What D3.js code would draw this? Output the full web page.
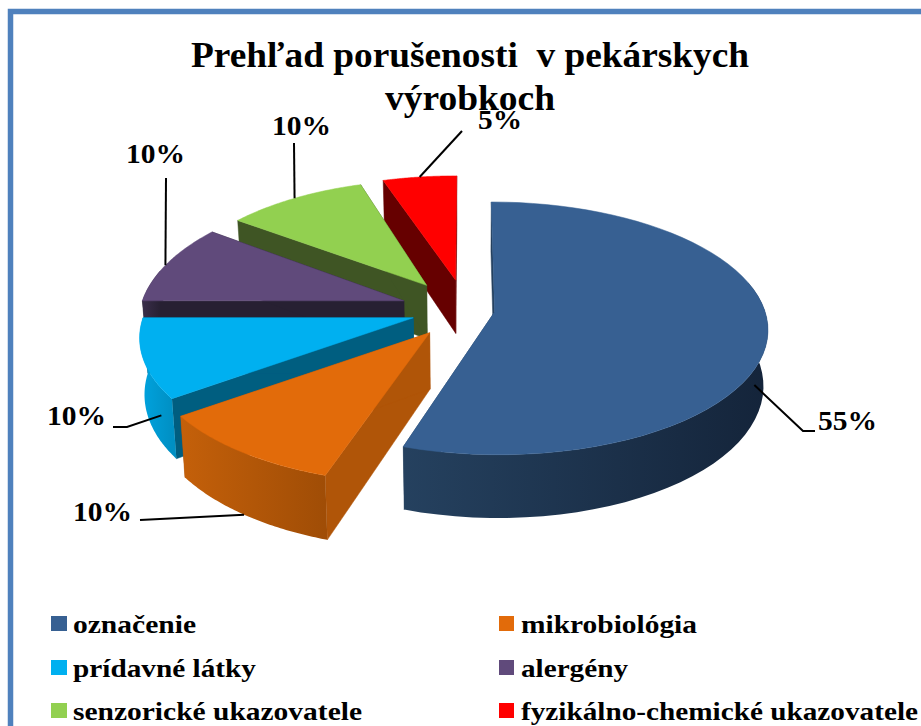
<!DOCTYPE html>
<html><head><meta charset="utf-8">
<script src="https://cdn.jsdelivr.net/npm/d3@7"></script>
<style>html,body{margin:0;padding:0;background:#fff;overflow:hidden}svg{display:block}
text{font-family:"Liberation Serif",serif;font-weight:bold;fill:#000;white-space:pre}</style>
</head><body><svg id="c" width="921" height="726"></svg>
<script>
// ---- data ----
const categories = ["označenie","mikrobiológia","prídavné látky","alergény","senzorické ukazovatele","fyzikálno-chemické ukazovatele"];
const values = [55,10,10,10,10,5];
const valueLabels = ["55%","10%","10%","10%","10%","5%"];
const titleLines = ["Prehľad porušenosti  v pekárskych","výrobkoch"];
// ---- styles ----
const topColors  = ["#376092","#e26b0a","#00b0f0","#604a7b","#92d050","#ff0000"];
const wallColors = ["#24405f","#b05508","#005e80","#272032","#3f5524","#660000"];
const rimColors  = [["#25415f","#14243a"],["#c4600a","#a04d06"],["#00a4e0","#0090c4"],["#3a2e4a","#272032"],["#55722f","#3f5524"],["#800000","#660000"]];
// ---- layout ----
const explode = [0.105,0.22,0.20,0.24,0.25,0.25];
const radiusX = [0.982,0.995,0.975,0.96,0.95,1];
const radiusY = [0.99,1,1,1.03,1,1];
const paintOrder = [5,4,3,2,1,0];
const labelX = [818,73,47,126,272,478], labelY = [430,521,425,163,135,129];
const anchorDeg = [115,216,240,287,324,351], anchorZ = [0.3,1,0.5,0,0,0];
const elbows = [[[803,431],[815,431]],[[140,520]],[[127,427],[113,427]],[[166,178]],[[294,143]],[[462,131]]];
const legendX = [51,499], legendRows = [633,677,720], legendW = [123,176,183,107,289,397];
const titleW = [558,170], titleY = [67,110];

const svg = d3.select("#c");
const P = 0.13, D = 55, CX = 466;
const sx = d3.scaleLinear().domain([-1,1]).range([CX-275,CX+275]);
const sy = d3.scaleLinear().domain([-1,1]).range([310+125,310-125]);
const proj = (wx,wy,z=0)=>{const s=1/(1+P*wy), x=sx(wx*s);
  return [CX+(x-CX)*(1-0.015*z), sy(wy*s)+D*z*s];};
const line = d3.line();
const arcs = d3.pie().sort(null)(values);
const defs = svg.append("defs");

svg.append("path").attr("d","M921,11.5H10.5V726").attr("fill","none").attr("stroke","#4f81bd").attr("stroke-width",5.5);

paintOrder.forEach(i=>{
  const a=arcs[i], mid=(a.startAngle+a.endAngle)/2;
  const tx=explode[i]*Math.sin(mid), ty=explode[i]*Math.cos(mid);
  const rim=d3.range(0,61).map(k=>{const t=a.startAngle+(a.endAngle-a.startAngle)*k/60;
    return [tx+radiusX[i]*Math.sin(t),ty+radiusY[i]*Math.cos(t)];});
  const T=(w,z)=>proj(w[0],w[1],z);
  const tip=[tx,ty];
  const g=svg.append("g");
  [rim[0],rim[60]].forEach(e=>{
    g.append("path").attr("d",line([T(tip,0),T(e,0),T(e,1),T(tip,1)])+"Z")
     .attr("fill",wallColors[i]).attr("stroke",wallColors[i]).attr("stroke-width",.5);
  });
  const front=rim.filter((w,k)=>{const t=a.startAngle+(a.endAngle-a.startAngle)*k/60;return Math.cos(t)<0.25;});
  if(front.length>1){
    const id="rim"+i, xs=front.map(w=>T(w,0)[0]);
    const gr=defs.append("linearGradient").attr("id",id).attr("gradientUnits","userSpaceOnUse")
      .attr("x1",d3.min(xs)).attr("x2",d3.max(xs)).attr("y1",0).attr("y2",0);
    const c=rimColors[i];
    gr.append("stop").attr("offset",0).attr("stop-color",c[0]);
    gr.append("stop").attr("offset",1).attr("stop-color",c[1]);
    g.append("path").attr("d",line(front.map(w=>T(w,0)).concat(front.slice().reverse().map(w=>T(w,1))))+"Z")
     .attr("fill","url(#"+id+")");
  }
  g.append("path").attr("d",line([T(tip,0)].concat(rim.map(w=>T(w,0))))+"Z")
   .attr("fill",topColors[i]).attr("stroke",topColors[i]).attr("stroke-width",.5);
});

arcs.forEach((a,i)=>{
  const mid=(a.startAngle+a.endAngle)/2, t=anchorDeg[i]*Math.PI/180;
  const start=proj(explode[i]*Math.sin(mid)+radiusX[i]*Math.sin(t),explode[i]*Math.cos(mid)+radiusY[i]*Math.cos(t),anchorZ[i]);
  svg.append("path").attr("d",line([start].concat(elbows[i]))).attr("fill","none").attr("stroke","#000").attr("stroke-width",2);
  svg.append("text").attr("x",labelX[i]).attr("y",labelY[i]).attr("font-size",28)
    .attr("textLength",i===5?44:59).attr("lengthAdjust","spacingAndGlyphs").text(valueLabels[i]);
});

titleLines.forEach((s,i)=>svg.append("text").attr("x",470).attr("y",titleY[i]).attr("text-anchor","middle").attr("font-size",36)
  .attr("textLength",titleW[i]).attr("lengthAdjust","spacingAndGlyphs").text(s));

categories.forEach((c,i)=>{
  const col=i%2,row=(i-col)/2;
  svg.append("rect").attr("x",legendX[col]).attr("y",legendRows[row]-17).attr("width",col?15:16).attr("height",15).attr("fill",topColors[i]);
  svg.append("text").attr("x",legendX[col]+22).attr("y",legendRows[row]).attr("font-size",26)
    .attr("textLength",legendW[i]).attr("lengthAdjust","spacingAndGlyphs").text(c);
});
</script></body></html>
